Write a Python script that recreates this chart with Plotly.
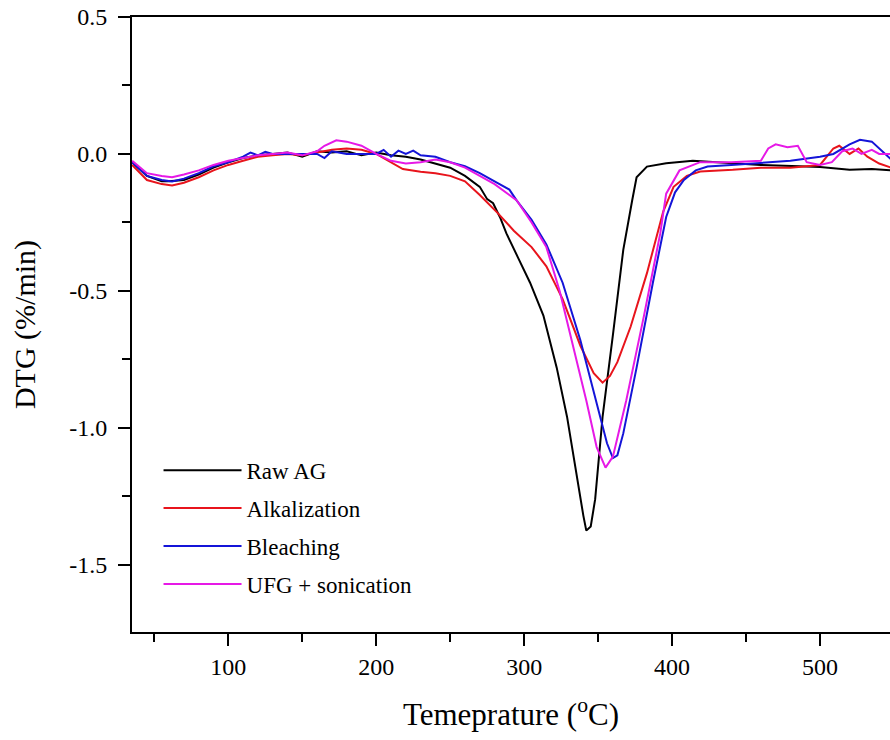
import plotly.graph_objects as go

# ---------------- data ----------------
raw_T = [35, 45, 55, 60, 70, 80, 90, 100, 110, 120, 130, 140, 150, 160, 170, 180, 190, 200,
         210, 220, 230, 240, 250, 260, 270, 275, 279, 284, 288, 296, 304, 313, 322, 329, 336,
         340, 342, 345, 348, 353, 360, 367, 373, 376, 383, 396, 414, 440, 460, 486, 500, 520,
         535, 548]
raw_V = [-0.03, -0.08, -0.10, -0.10, -0.095, -0.075, -0.05, -0.03, -0.015, -0.005, 0.0, 0.005,
         -0.01, 0.01, 0.005, 0.01, -0.005, 0.005, -0.005, -0.01, -0.02, -0.035, -0.05, -0.08,
         -0.12, -0.165, -0.18, -0.235, -0.29, -0.38, -0.47, -0.59, -0.78, -0.96, -1.20, -1.32,
         -1.375, -1.36, -1.26, -0.96, -0.66, -0.35, -0.17, -0.085, -0.046, -0.034, -0.025,
         -0.035, -0.04, -0.045, -0.048, -0.058, -0.055, -0.06]

alk_T = [35, 45, 55, 62, 70, 80, 90, 100, 110, 120, 130, 140, 150, 160, 170, 180, 190, 200,
         210, 218, 230, 240, 250, 260, 270, 282, 293, 305, 315, 326, 338, 347, 353, 358, 363,
         372, 383, 394, 401, 410, 419, 441, 460, 480, 500, 509, 513, 520, 526, 532, 540, 548]
alk_V = [-0.04, -0.095, -0.11, -0.115, -0.105, -0.085, -0.06, -0.04, -0.025, -0.01, -0.005,
         0.0, -0.005, 0.005, 0.015, 0.02, 0.015, 0.0, -0.03, -0.055, -0.065, -0.07, -0.08,
         -0.10, -0.15, -0.215, -0.28, -0.34, -0.41, -0.53, -0.70, -0.80, -0.835, -0.81, -0.76,
         -0.63, -0.435, -0.21, -0.12, -0.08, -0.064, -0.058, -0.05, -0.05, -0.04, 0.02, 0.03,
         0.0, 0.02, -0.01, -0.035, -0.05]

ble_T = [35, 45, 55, 62, 70, 80, 90, 100, 110, 115, 120, 125, 130, 140, 150, 160, 165, 170,
         180, 190, 200, 205, 210, 215, 220, 225, 230, 240, 250, 260, 270, 280, 290, 295, 305,
         315, 326, 338, 347, 356, 360, 363, 367, 376, 387, 396, 402, 408, 416, 424, 440, 464,
         480, 500, 509, 520, 527, 535, 542, 548]
ble_V = [-0.03, -0.08, -0.095, -0.10, -0.09, -0.07, -0.045, -0.03, -0.01, 0.005, -0.005,
         0.008, 0.0, 0.0, 0.0, 0.0, -0.015, 0.01, 0.0, 0.0, 0.0, 0.015, -0.01, 0.012, 0.0,
         0.012, -0.005, -0.01, -0.03, -0.045, -0.07, -0.10, -0.13, -0.17, -0.24, -0.33, -0.47,
         -0.68, -0.87, -1.056, -1.11, -1.10, -1.02, -0.78, -0.47, -0.23, -0.14, -0.095, -0.06,
         -0.046, -0.04, -0.03, -0.025, -0.01, 0.0, 0.035, 0.052, 0.045, 0.01, -0.02]

ufg_T = [35, 45, 55, 62, 70, 80, 90, 100, 110, 120, 130, 140, 150, 160, 165, 173, 180, 190,
         200, 210, 220, 230, 240, 250, 260, 270, 280, 290, 295, 305, 315, 324, 333, 342, 349,
         355, 360, 369, 381, 392, 396, 405, 419, 440, 460, 465, 470, 478, 485, 491, 500, 508,
         515, 522, 528, 535, 540, 548]
ufg_V = [-0.025, -0.07, -0.08, -0.085, -0.075, -0.06, -0.04, -0.025, -0.015, -0.005, 0.0,
         0.005, -0.005, 0.01, 0.03, 0.05, 0.045, 0.03, 0.0, -0.025, -0.035, -0.03, -0.02,
         -0.03, -0.05, -0.08, -0.11, -0.15, -0.17, -0.25, -0.34, -0.50, -0.70, -0.90, -1.07,
         -1.145, -1.105, -0.90, -0.59, -0.29, -0.145, -0.06, -0.03, -0.03, -0.025, 0.02, 0.035,
         0.025, 0.03, -0.03, -0.04, -0.03, 0.01, 0.02, 0.0, 0.015, 0.0, 0.0]

series_names = ["Raw AG", "Alkalization", "Bleaching", "UFG + sonication"]
series_T = [raw_T, alk_T, ble_T, ufg_T]
series_V = [raw_V, alk_V, ble_V, ufg_V]
series_colors = ["#000000", "#e8141c", "#1414d8", "#e619e6"]

x_tickvals = [100, 200, 300, 400, 500]
x_ticktext = ["100", "200", "300", "400", "500"]
y_tickvals = [0.5, 0.0, -0.5, -1.0, -1.5]
y_ticktext = ["0.5", "0.0", "-0.5", "-1.0", "-1.5"]

# ---------------- figure ----------------
FONT = "Liberation Serif"
fig = go.Figure()
for i, (name, T, V, c) in enumerate(zip(series_names, series_T, series_V, series_colors)):
    fig.add_trace(go.Scatter(x=T, y=V, mode="lines", name=name,
                             line=dict(color=c, width=2), legendgroup=f"g{i}"))

fig.update_layout(
    width=890, height=740,
    margin=dict(l=132, r=0, t=17, b=108, autoexpand=False),
    paper_bgcolor="white", plot_bgcolor="white",
    font=dict(family=FONT, color="black", size=24),
    showlegend=True,
    legend=dict(x=0.035, y=0.298, xanchor="left", yanchor="top",
                bgcolor="rgba(0,0,0,0)", font=dict(family=FONT, size=23, color="black"),
                itemwidth=78, traceorder="grouped", tracegroupgap=5),
)
fig.update_xaxes(
    range=[34.9, 547.3], showgrid=False, zeroline=False, automargin=False,
    showline=True, linecolor="black", linewidth=2, mirror=True,
    tickmode="array", tickvals=x_tickvals, ticktext=x_ticktext,
    ticks="outside", ticklen=12, tickwidth=2, tickcolor="black",
    tickfont=dict(family=FONT, size=24),
    minor=dict(dtick=50, tick0=0, ticks="outside", ticklen=8, tickwidth=2, tickcolor="black"),
    title=dict(text="Temeprature (<sup>o</sup>C)", font=dict(family=FONT, size=31), standoff=25),
)
fig.update_yaxes(
    range=[-1.745, 0.5], showgrid=False, zeroline=False, automargin=False,
    showline=True, linecolor="black", linewidth=2, mirror=False,
    tickmode="array", tickvals=y_tickvals, ticktext=y_ticktext,
    ticks="outside", ticklen=12, tickwidth=2, tickcolor="black", ticklabelstandoff=6,
    tickfont=dict(family=FONT, size=24),
    minor=dict(dtick=0.25, tick0=0, ticks="outside", ticklen=8, tickwidth=2, tickcolor="black"),
    title=dict(text="DTG (%/min)", font=dict(family=FONT, size=30), standoff=25),
)

fig.write_html(
    "out.html",
    config={"displayModeBar": False},
    post_script="document.body.style.margin='0px';document.body.style.overflow='hidden';",
)
